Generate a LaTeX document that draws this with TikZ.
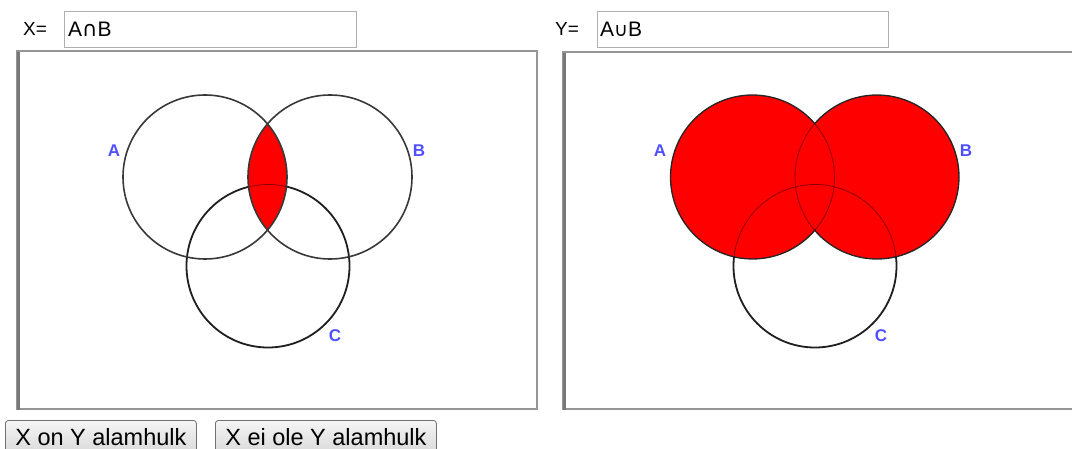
\documentclass[tikz,border=0pt]{standalone}
\usepackage{fontspec}
\setmainfont{Liberation Sans}
\newfontfamily\symf{DejaVu Sans}
\usetikzlibrary{calc,shadings}
\definecolor{lblue}{RGB}{80,80,255}
\definecolor{fieldgray}{RGB}{175,175,175}
\definecolor{framegray}{RGB}{150,150,150}
\definecolor{btnborder}{RGB}{112,112,112}
\tikzset{
  lbl/.style={inner sep=0pt, text=lblue, font=\fontsize{17}{19}\selectfont\bfseries},
  eqlbl/.style={inner sep=0pt, anchor=base west, font=\fontsize{19}{21}\selectfont},
  fieldtxt/.style={inner sep=0pt, anchor=base west, font=\fontsize{21}{24}\selectfont},
  field/.style={draw=fieldgray, line width=1pt, fill=white},
  frame/.style={draw=framegray, line width=1.5pt},
  circ/.style={draw=black!78, line width=1.6pt},
  circc/.style={draw=black!88, line width=1.8pt},
  inner/.style={draw=red!55!black, line width=0.8pt},
  outer/.style={draw=black!85, line width=1.3pt},
  btn/.style={draw=btnborder, line width=0.8pt, rounded corners=3pt, top color=white!96!black, bottom color=white!85!black, anchor=north west, inner sep=0pt, font=\fontsize{23.5}{26}\selectfont, minimum height=34pt}
}
\begin{document}
\begin{tikzpicture}[x=1pt,y=-1pt]
\useasboundingbox (0,0) rectangle (1072,449);
\fill[white] (0,0) rectangle (1072,449);

% ---------- labels and text fields ----------
\node[eqlbl] (xl) at (23,36) {X=};
\node[field, inner sep=0pt, anchor=north west, minimum width=292pt, minimum height=36pt] (xf) at (64,11) {};
\node[fieldtxt] (xt) at (68,37) {A{\symf\fontsize{21}{24}\selectfont ∩}B};
\node[eqlbl] (yl) at (555,36) {Y=};
\node[field, inner sep=0pt, anchor=north west, minimum width=291pt, minimum height=36pt] (yf) at (597,11) {};
\node[fieldtxt] (yt) at (600,37) {A{\symf\fontsize{19}{22}\selectfont ∪}B};

% ---------- panel frames ----------
\draw[frame] (17,51) rectangle (537,409);
\draw[framegray!80!black, line width=3.5pt] (18.5,50.5) -- (18.5,409.5);
\draw[framegray, line width=2pt] (17,51.5) -- (537,51.5);
\draw[frame] (563,52) rectangle (1085,409);
\draw[framegray!80!black, line width=3.5pt] (564.5,51) -- (564.5,409.5);
\draw[framegray, line width=2pt] (563,52.5) -- (1085,52.5);

% ---------- left panel: A intersect B ----------
\coordinate (A1) at (205,177);
\coordinate (B1) at (330,177);
\coordinate (C1) at (268,266);
\draw[circc] (C1) circle (81.5pt);
\begin{scope}
  \clip (A1) circle (82pt);
  \clip (B1) circle (82pt);
  \fill[red] (B1) circle (82pt);
  \draw[inner] (C1) circle (81.5pt);
\end{scope}
\draw[circ] (A1) circle (82pt);
\draw[circ] (B1) circle (82pt);
\node[lbl] (la1) at (114,151) {A};
\node[lbl] (lb1) at (419,151) {B};
\node[lbl] (lc1) at (335,336) {C};

% ---------- right panel: A union B ----------
\coordinate (A2) at (752.5,177);
\coordinate (B2) at (877,177);
\coordinate (C2) at (815,266);
\draw[circc] (C2) circle (81.5pt);
\fill[red] (A2) circle (82pt) (B2) circle (82pt);
\begin{scope}
  \clip (A2) circle (82pt) (B2) circle (82pt);
  \draw[inner] (C2) circle (81.5pt);
  \draw[inner] (A2) circle (82pt);
  \draw[inner] (B2) circle (82pt);
\end{scope}
\draw[outer] ($(A2)+(40.4:82pt)$) arc[start angle=40.4, end angle=319.6, radius=82pt];
\draw[outer] ($(B2)+(-139.6:82pt)$) arc[start angle=-139.6, end angle=139.6, radius=82pt];
\node[lbl] (la2) at (660,151) {A};
\node[lbl] (lb2) at (966,151) {B};
\node[lbl] (lc2) at (881,336) {C};

% ---------- buttons ----------
\node[btn, minimum width=191pt] (b1) at (5,420) {X on Y alamhulk};
\node[btn, minimum width=221pt] (b2) at (215,420) {X ei ole Y alamhulk};
\end{tikzpicture}
\end{document}
